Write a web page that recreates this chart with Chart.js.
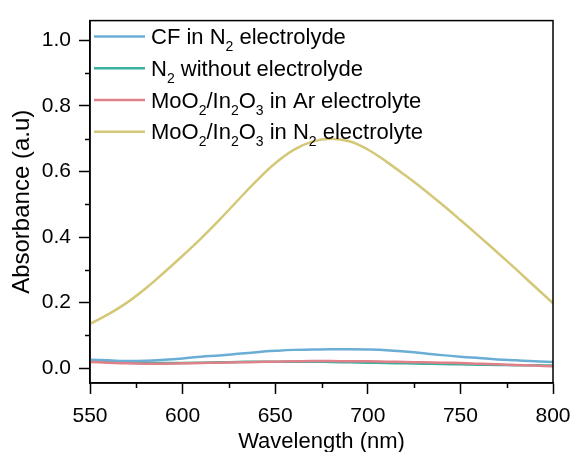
<!DOCTYPE html>
<html>
<head>
<meta charset="utf-8">
<script src="https://cdn.jsdelivr.net/npm/chart.js@4.4.1/dist/chart.umd.min.js"></script>
<style>
  html, body { margin: 0; padding: 0; background: #fff; }
  #wrap { width: 573px; height: 452px; }
</style>
</head>
<body>
<div id="wrap"><canvas id="absChart" width="573" height="452"></canvas></div>
<script>
// wavelengths (nm)
var wavelength = [550, 560, 570, 580, 590, 600, 610, 620, 630, 640, 650, 660, 670,
                  680, 690, 700, 710, 720, 730, 740, 750, 760, 770, 780, 790, 800];

var cfN2 = [0.026, 0.024, 0.022, 0.023, 0.026, 0.030, 0.035, 0.039, 0.044, 0.049, 0.053, 0.056, 0.057,
            0.058, 0.058, 0.057, 0.055, 0.051, 0.046, 0.040, 0.035, 0.031, 0.027, 0.024, 0.021, 0.019];
var n2NoElec = [0.021, 0.019, 0.017, 0.016, 0.016, 0.016, 0.017, 0.018, 0.019, 0.020, 0.020, 0.020, 0.020,
                0.019, 0.018, 0.017, 0.016, 0.015, 0.014, 0.013, 0.012, 0.011, 0.010, 0.009, 0.009, 0.008];
var moArElec = [0.019, 0.017, 0.015, 0.014, 0.014, 0.015, 0.016, 0.017, 0.018, 0.019, 0.020, 0.021, 0.022,
                0.022, 0.021, 0.021, 0.020, 0.019, 0.018, 0.017, 0.016, 0.014, 0.012, 0.010, 0.008, 0.006];
var moN2Elec = [0.135, 0.165, 0.200, 0.243, 0.292, 0.343, 0.396, 0.453, 0.513, 0.572, 0.625, 0.666, 0.691,
                0.700, 0.692, 0.667, 0.630, 0.589, 0.546, 0.500, 0.452, 0.403, 0.353, 0.302, 0.250, 0.198];

var seriesNames = ['CF in N₂ electrolyde', 'N₂ without electrolyde',
                   'MoO₂/In₂O₃ in Ar electrolyte', 'MoO₂/In₂O₃ in N₂ electrolyte'];

var yTicks = [0, 0.2, 0.4, 0.6, 0.8, 1.0];
var yMinor = [0.1, 0.3, 0.5, 0.7, 0.9];
var xTicks = [550, 600, 650, 700, 750, 800];
var xMinor = [575, 625, 675, 725, 775];

var colors = ['#6aaed6', '#3bb0a0', '#e08088', '#d4c878'];
var FONT = 'Liberation Sans, Arial, sans-serif';

function pts(vals) {
    return vals.map(function (v, i) { return { x: wavelength[i], y: v }; });
}

// frame, minor ticks, legend with subscripts
var extras = {
    id: 'extras',
    afterDraw: function (chart) {
        var ctx = chart.ctx, a = chart.chartArea;
        var xs = chart.scales.x, ys = chart.scales.y;
        ctx.save();
        ctx.strokeStyle = '#000';
        ctx.lineWidth = 1.5;
        ctx.strokeRect(a.left, a.top, a.right - a.left, a.bottom - a.top);
        ctx.beginPath();
        yMinor.forEach(function (v) {
            var y = Math.round(ys.getPixelForValue(v)) + 0.5;
            ctx.moveTo(a.left, y); ctx.lineTo(a.left - 5, y);
        });
        xMinor.forEach(function (v) {
            var x = Math.round(xs.getPixelForValue(v)) + 0.5;
            ctx.moveTo(x, a.bottom); ctx.lineTo(x, a.bottom + 5);
        });
        ctx.stroke();

        // legend
        var lx = a.left + 4, ly = a.top + 16, gap = 31.7;
        chart.data.datasets.forEach(function (ds, i) {
            var y = ly + i * gap;
            ctx.strokeStyle = ds.borderColor;
            ctx.lineWidth = 2.5;
            ctx.beginPath();
            ctx.moveTo(lx, y); ctx.lineTo(lx + 51, y);
            ctx.stroke();
            drawSub(ctx, ds.label, lx + 57, y + 7.5);
        });
        ctx.restore();
    }
};

var subMap = { '₂': '2', '₃': '3' };
function drawSub(ctx, text, x, base) {
    ctx.fillStyle = '#000';
    ctx.textBaseline = 'alphabetic';
    ctx.textAlign = 'left';
    var buf = '';
    function flush() {
        if (!buf) return;
        ctx.font = '22px ' + FONT;
        ctx.fillText(buf, x, base);
        x += ctx.measureText(buf).width;
        buf = '';
    }
    for (var i = 0; i < text.length; i++) {
        var ch = text[i];
        if (subMap[ch]) {
            flush();
            ctx.font = '14px ' + FONT;
            ctx.fillText(subMap[ch], x, base + 7);
            x += ctx.measureText(subMap[ch]).width;
        } else {
            buf += ch;
        }
    }
    flush();
}

var absCtx = document.getElementById('absChart').getContext('2d');
var absChart = new Chart(absCtx, {
    type: 'line',
    data: {
        datasets: [{
            label: seriesNames[0],
            data: pts(cfN2),
            borderColor: colors[0],
            order: 2
        }, {
            label: seriesNames[1],
            data: pts(n2NoElec),
            borderColor: colors[1],
            order: 3
        }, {
            label: seriesNames[2],
            data: pts(moArElec),
            borderColor: colors[2],
            order: 1
        }, {
            label: seriesNames[3],
            data: pts(moN2Elec),
            borderColor: colors[3],
            order: 0
        }]
    },
    options: {
        responsive: false,
        animation: false,
        layout: { padding: { top: 16, right: 20, left: 0, bottom: 0 } },
        elements: {
            point: { radius: 0 },
            line: { borderWidth: 2.5, tension: 0.4, fill: false }
        },
        plugins: {
            legend: { display: false },
            tooltip: { enabled: false }
        },
        scales: {
            x: {
                type: 'linear',
                min: 550,
                max: 800,
                afterBuildTicks: function (s) { s.ticks = xTicks.map(function (v) { return { value: v }; }); },
                afterFit: function (s) { s.height = 69; s.paddingLeft = 0; s.paddingRight = 0; },
                border: { color: '#000', width: 1.5 },
                grid: { drawOnChartArea: false, tickLength: 11, tickColor: '#000', tickWidth: 1.5 },
                ticks: { color: '#000', font: { family: FONT, size: 21 }, padding: 10, maxRotation: 0 },
                title: {
                    display: true, text: 'Wavelength (nm)', color: '#000',
                    font: { family: FONT, size: 22, lineHeight: 1.0 }, padding: { top: 0, bottom: -1 }
                }
            },
            y: {
                min: -0.045,
                max: 1.06,
                afterBuildTicks: function (s) { s.ticks = yTicks.map(function (v) { return { value: v }; }); },
                afterFit: function (s) { s.width = 90; },
                border: { color: '#000', width: 1.5 },
                grid: { drawOnChartArea: false, tickLength: 11, tickColor: '#000', tickWidth: 1.5 },
                ticks: {
                    color: '#000', font: { family: FONT, size: 21 }, padding: 8,
                    callback: function (v) { return v.toFixed(1); }
                },
                title: {
                    display: true, text: 'Absorbance (a.u)', color: '#000',
                    font: { family: FONT, size: 24, lineHeight: 1.0 }, padding: { top: 10, bottom: 0 }
                }
            }
        }
    },
    plugins: [extras]
});
</script>
</body>
</html>
